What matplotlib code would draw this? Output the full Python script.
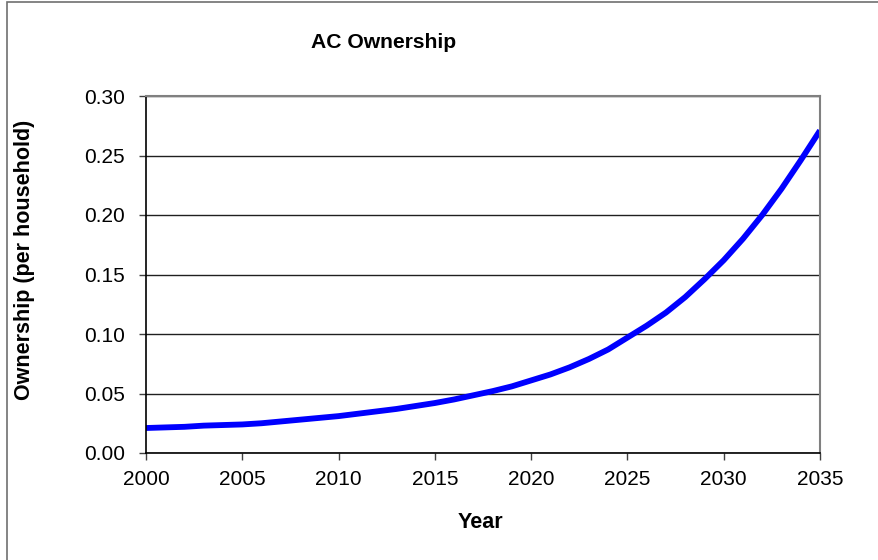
import matplotlib
matplotlib.use("Agg")
import matplotlib.pyplot as plt
from matplotlib.patches import Rectangle
import numpy as np

# Air-conditioner ownership per household, yearly
years = list(range(2000, 2036))
ownership = [0.021, 0.0215, 0.022, 0.023, 0.0235, 0.024, 0.025, 0.0265, 0.028, 0.0295,
             0.031, 0.033, 0.035, 0.037, 0.0395, 0.042, 0.045, 0.0485, 0.052, 0.056,
             0.061, 0.066, 0.072, 0.079, 0.087, 0.097, 0.107, 0.118, 0.131, 0.146,
             0.162, 0.180, 0.200, 0.222, 0.246, 0.271]
x_ticks = [2000, 2005, 2010, 2015, 2020, 2025, 2030, 2035]
y_ticks = [0.00, 0.05, 0.10, 0.15, 0.20, 0.25, 0.30]

plt.rcParams["font.family"] = ["Liberation Sans", "DejaVu Sans"]

fig = plt.figure(figsize=(8.79, 5.60), dpi=100)
ax = fig.add_axes([146 / 879, 1 - 453 / 560, 674 / 879, 357 / 560])

# chart frame (runs off the right and bottom edges)
fig.patches.append(Rectangle((7 / 879, -0.05), 1.2, 1 - 2 / 560 + 0.05,
                             transform=fig.transFigure, fill=False,
                             edgecolor="#707070", linewidth=1.2))

ax.plot(years, ownership, color="#0000FF", linewidth=4.2, solid_capstyle="butt")

ax.set_xlim(2000, 2035)
ax.set_ylim(0, 0.30)
ax.set_xticks(x_ticks)
ax.set_xticklabels([str(v) for v in x_ticks])
ax.set_yticks(y_ticks)
ax.set_yticklabels(["%.2f" % v for v in y_ticks])
ax.tick_params(direction="out", length=5, width=1, labelsize=15, color="#404040")
ax.tick_params(axis="x", pad=7)
ax.tick_params(axis="y", pad=10)

ax.grid(axis="y", color="#202020", linewidth=1)
ax.set_axisbelow(True)
for side in ["left", "bottom"]:
    ax.spines[side].set_color("black")
    ax.spines[side].set_linewidth(1.2)
for side in ["top", "right"]:
    ax.spines[side].set_color("#808080")
    ax.spines[side].set_linewidth(1.5)

fig.text(384 / 879, 1 - 42 / 560, "AC Ownership", ha="center", va="center",
         fontsize=15.2, fontweight="bold")
fig.text(25 / 879, 1 - 260 / 560, "Ownership (per household)", ha="center", va="center",
         rotation=90, fontsize=15.5, fontweight="bold")
fig.text(480 / 879, 1 - 523 / 560, "Year", ha="center", va="center",
         fontsize=15.5, fontweight="bold")

fig.savefig("out.png", dpi=100)
